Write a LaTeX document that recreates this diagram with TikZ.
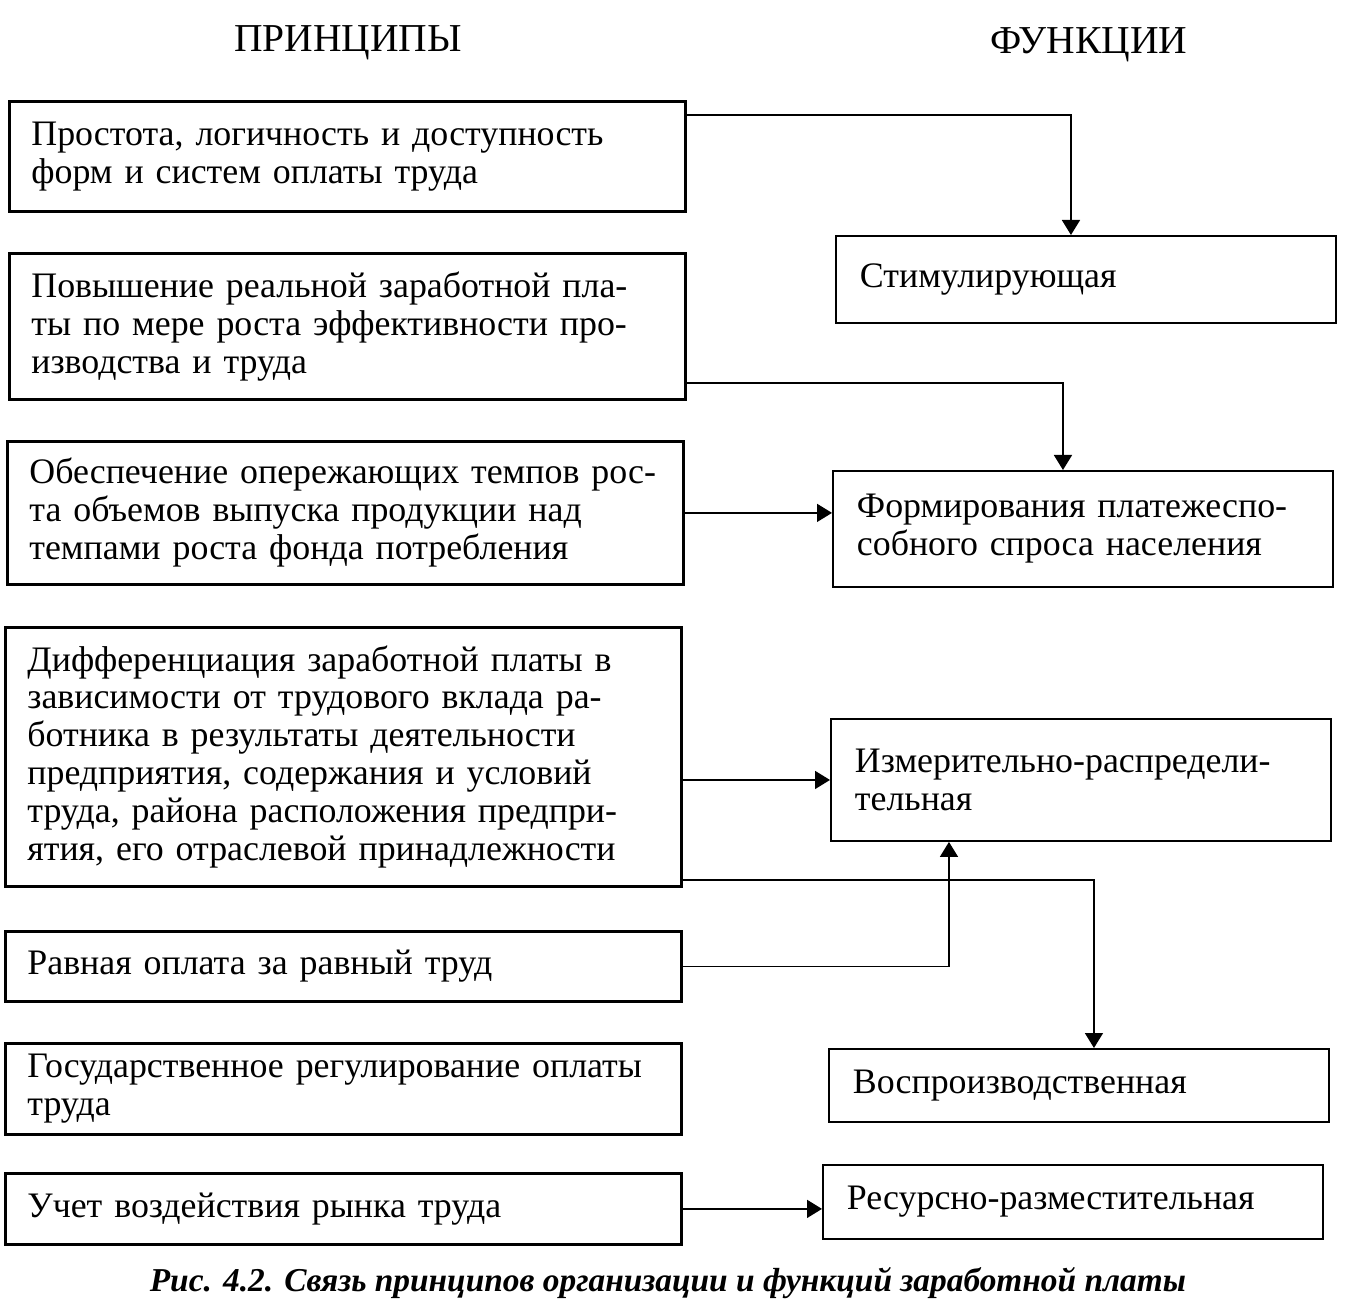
\documentclass[tikz,border=0pt]{standalone}
\usepackage{fontspec}
\setmainfont{Liberation Serif}
\usetikzlibrary{arrows.meta}

\tikzset{
  principle/.style={draw, line width=1.6pt, anchor=north west, inner xsep=0.44cm,
    text width=12.64cm, align=left, font=\fontsize{20.4}{21.6}\selectfont},
  function/.style={draw, line width=1.1pt, anchor=north west, inner xsep=0.48cm,
    text width=9.04cm, align=left, font=\fontsize{20.4}{21.6}\selectfont},
  link/.style={line width=0.9pt, -{Triangle[length=0.3cm, width=0.36cm]}},
  head/.style={font=\fontsize{22.5}{25}\selectfont}
}

\begin{document}
\begin{tikzpicture}
  \useasboundingbox (0,0) rectangle (26.9,-26.22);

  % zagolovki
  \node[head] (hprin) at (6.96,-0.86) {ПРИНЦИПЫ};
  \node[head] (hfun) at (21.78,-0.9) {ФУНКЦИИ};

  % principy
  \node[principle, minimum height=2.2cm] (prost) at (0.16,-2.0)
    {Простота, логичность и доступность\\форм и систем оплаты труда};
  \node[principle, minimum height=2.92cm] (povysh) at (0.16,-5.04)
    {Повышение реальной заработной пла-\\ты по мере роста эффективности про-\\изводства и труда};
  \node[principle, minimum height=2.86cm] (obesp) at (0.12,-8.8)
    {Обеспечение опережающих темпов рос-\\та объемов выпуска продукции над\\темпами роста фонда потребления};
  \node[principle, minimum height=5.18cm] (diff) at (0.08,-12.52)
    {Дифференциация заработной платы в\\зависимости от трудового вклада ра-\\ботника в результаты деятельности\\предприятия, содержания и условий\\труда, района расположения предпри-\\ятия, его отраслевой принадлежности};
  \node[principle, minimum height=1.4cm] (ravn) at (0.08,-18.6)
    {Равная оплата за равный труд};
  \node[principle, minimum height=1.82cm] (gosreg) at (0.08,-20.84)
    {Государственное регулирование оплаты\\труда};
  \node[principle, minimum height=1.42cm] (rynok) at (0.08,-23.44)
    {Учет воздействия рынка труда};

  % funkcii
  \node[function, minimum height=1.74cm] (stim) at (16.7,-4.7)
    {Стимулирующая};
  \node[function, minimum height=2.32cm] (form) at (16.64,-9.4)
    {Формирования платежеспо-\\собного спроса населения};
  \node[function, minimum height=2.44cm] (izmer) at (16.6,-14.36)
    {Измерительно-распредели-\\тельная};
  \node[function, minimum height=1.46cm] (vospr) at (16.56,-20.96)
    {Воспроизводственная};
  \node[function, minimum height=1.48cm] (resurs) at (16.44,-23.28)
    {Ресурсно-разместительная};

  % svyazi
  \draw[link] ([yshift=-0.3cm]prost.north east) -| ([xshift=-0.3cm]stim.north);
  \draw[link] ([yshift=0.36cm]povysh.south east) -| ([xshift=-0.4cm]form.north);
  \draw[link] (obesp.east) -- (obesp.east -| form.west);
  \draw[link] (izmer.west -| diff.east) -- (izmer.west);
  \draw[link] ([yshift=0.16cm]diff.south east) -| ([xshift=0.3cm]vospr.north);
  \draw[link] (ravn.east) -| ([xshift=-2.64cm]izmer.south);
  \draw[link] (rynok.east) -- (rynok.east -| resurs.west);

  % podpis
  \node[font=\fontsize{19}{22}\selectfont\bfseries\itshape] (caption) at (13.36,-25.66)
    {Рис. 4.2. Связь принципов организации и функций заработной платы};
\end{tikzpicture}
\end{document}
